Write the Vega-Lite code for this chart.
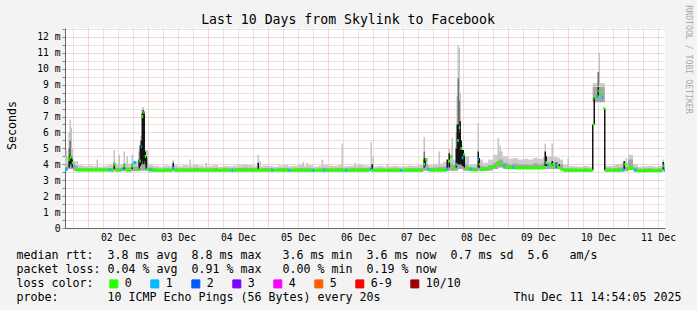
{
"$schema":"https://vega.github.io/schema/vega-lite/v6.json",
"width":600,"height":200,"autosize":"none",
"padding":{"left":65,"top":28,"right":32,"bottom":82},
"background":"#f3f3f3",
"config":{"view":{"fill":"#ffffff","stroke":null}},
"title":{"text":"Last 10 Days from Skylink to Facebook","font":"DejaVu Sans Mono","fontSize":13.2,"fontWeight":"normal","color":"#000000","anchor":"middle","frame":"group","dx":-17,"offset":-32.5,"baseline":"alphabetic"},
"datasets":{
"smoke":[
{"t":"2025-12-01T14:00:00Z","t2":"2025-12-01T16:00:00Z","lo":3.6,"hi":4.5,"m":4.0},
{"t":"2025-12-01T16:00:00Z","t2":"2025-12-01T18:00:00Z","lo":3.7,"hi":5.0,"m":4.5},
{"t":"2025-12-01T18:00:00Z","t2":"2025-12-01T20:00:00Z","lo":3.6,"hi":4.2,"m":3.9},
{"t":"2025-12-01T20:00:00Z","t2":"2025-12-01T22:00:00Z","lo":3.57,"hi":3.95,"m":3.78},
{"t":"2025-12-01T22:00:00Z","t2":"2025-12-02T00:00:00Z","lo":3.57,"hi":3.9,"m":3.75},
{"t":"2025-12-02T00:00:00Z","t2":"2025-12-02T02:00:00Z","lo":3.57,"hi":3.92,"m":3.75},
{"t":"2025-12-02T02:00:00Z","t2":"2025-12-02T04:00:00Z","lo":3.57,"hi":3.88,"m":3.74},
{"t":"2025-12-02T04:00:00Z","t2":"2025-12-02T06:00:00Z","lo":3.57,"hi":3.85,"m":3.73},
{"t":"2025-12-02T06:00:00Z","t2":"2025-12-02T08:00:00Z","lo":3.57,"hi":3.9,"m":3.75},
{"t":"2025-12-02T08:00:00Z","t2":"2025-12-02T10:00:00Z","lo":3.57,"hi":3.95,"m":3.76},
{"t":"2025-12-02T10:00:00Z","t2":"2025-12-02T12:00:00Z","lo":3.57,"hi":4.05,"m":3.8},
{"t":"2025-12-02T12:00:00Z","t2":"2025-12-02T14:00:00Z","lo":3.57,"hi":4.0,"m":3.78},
{"t":"2025-12-02T14:00:00Z","t2":"2025-12-02T16:00:00Z","lo":3.57,"hi":4.1,"m":3.82},
{"t":"2025-12-02T16:00:00Z","t2":"2025-12-02T18:00:00Z","lo":3.57,"hi":4.05,"m":3.8},
{"t":"2025-12-02T18:00:00Z","t2":"2025-12-02T20:00:00Z","lo":3.57,"hi":4.2,"m":3.85},
{"t":"2025-12-02T20:00:00Z","t2":"2025-12-02T22:00:00Z","lo":3.6,"hi":4.8,"m":4.3},
{"t":"2025-12-02T22:00:00Z","t2":"2025-12-03T00:00:00Z","lo":3.6,"hi":4.9,"m":4.4},
{"t":"2025-12-03T00:00:00Z","t2":"2025-12-03T02:00:00Z","lo":3.57,"hi":4.0,"m":3.8},
{"t":"2025-12-03T02:00:00Z","t2":"2025-12-03T04:00:00Z","lo":3.57,"hi":3.9,"m":3.75},
{"t":"2025-12-03T04:00:00Z","t2":"2025-12-03T06:00:00Z","lo":3.57,"hi":3.85,"m":3.72},
{"t":"2025-12-03T06:00:00Z","t2":"2025-12-03T08:00:00Z","lo":3.57,"hi":3.92,"m":3.75},
{"t":"2025-12-03T08:00:00Z","t2":"2025-12-03T10:00:00Z","lo":3.57,"hi":3.9,"m":3.74},
{"t":"2025-12-03T10:00:00Z","t2":"2025-12-03T12:00:00Z","lo":3.57,"hi":3.95,"m":3.78},
{"t":"2025-12-03T12:00:00Z","t2":"2025-12-03T14:00:00Z","lo":3.57,"hi":3.88,"m":3.74},
{"t":"2025-12-03T14:00:00Z","t2":"2025-12-03T16:00:00Z","lo":3.57,"hi":3.95,"m":3.76},
{"t":"2025-12-03T16:00:00Z","t2":"2025-12-03T18:00:00Z","lo":3.57,"hi":3.9,"m":3.74},
{"t":"2025-12-03T18:00:00Z","t2":"2025-12-03T20:00:00Z","lo":3.57,"hi":3.98,"m":3.78},
{"t":"2025-12-03T20:00:00Z","t2":"2025-12-03T22:00:00Z","lo":3.57,"hi":3.92,"m":3.75},
{"t":"2025-12-03T22:00:00Z","t2":"2025-12-04T00:00:00Z","lo":3.57,"hi":3.87,"m":3.73},
{"t":"2025-12-04T00:00:00Z","t2":"2025-12-04T02:00:00Z","lo":3.57,"hi":3.9,"m":3.74},
{"t":"2025-12-04T02:00:00Z","t2":"2025-12-04T04:00:00Z","lo":3.57,"hi":3.95,"m":3.77},
{"t":"2025-12-04T04:00:00Z","t2":"2025-12-04T06:00:00Z","lo":3.57,"hi":3.85,"m":3.72},
{"t":"2025-12-04T06:00:00Z","t2":"2025-12-04T08:00:00Z","lo":3.57,"hi":3.9,"m":3.75},
{"t":"2025-12-04T08:00:00Z","t2":"2025-12-04T10:00:00Z","lo":3.57,"hi":3.88,"m":3.74},
{"t":"2025-12-04T10:00:00Z","t2":"2025-12-04T12:00:00Z","lo":3.57,"hi":3.92,"m":3.76},
{"t":"2025-12-04T12:00:00Z","t2":"2025-12-04T14:00:00Z","lo":3.57,"hi":3.95,"m":3.77},
{"t":"2025-12-04T14:00:00Z","t2":"2025-12-04T16:00:00Z","lo":3.57,"hi":4.0,"m":3.8},
{"t":"2025-12-04T16:00:00Z","t2":"2025-12-04T18:00:00Z","lo":3.57,"hi":3.95,"m":3.77},
{"t":"2025-12-04T18:00:00Z","t2":"2025-12-04T20:00:00Z","lo":3.57,"hi":3.9,"m":3.75},
{"t":"2025-12-04T20:00:00Z","t2":"2025-12-04T22:00:00Z","lo":3.57,"hi":3.88,"m":3.74},
{"t":"2025-12-04T22:00:00Z","t2":"2025-12-05T00:00:00Z","lo":3.57,"hi":3.93,"m":3.76},
{"t":"2025-12-05T00:00:00Z","t2":"2025-12-05T02:00:00Z","lo":3.57,"hi":3.9,"m":3.75},
{"t":"2025-12-05T02:00:00Z","t2":"2025-12-05T04:00:00Z","lo":3.57,"hi":3.85,"m":3.72},
{"t":"2025-12-05T04:00:00Z","t2":"2025-12-05T06:00:00Z","lo":3.57,"hi":3.92,"m":3.76},
{"t":"2025-12-05T06:00:00Z","t2":"2025-12-05T08:00:00Z","lo":3.57,"hi":3.95,"m":3.77},
{"t":"2025-12-05T08:00:00Z","t2":"2025-12-05T10:00:00Z","lo":3.57,"hi":3.88,"m":3.74},
{"t":"2025-12-05T10:00:00Z","t2":"2025-12-05T12:00:00Z","lo":3.57,"hi":3.9,"m":3.75},
{"t":"2025-12-05T12:00:00Z","t2":"2025-12-05T14:00:00Z","lo":3.57,"hi":3.97,"m":3.78},
{"t":"2025-12-05T14:00:00Z","t2":"2025-12-05T16:00:00Z","lo":3.57,"hi":3.9,"m":3.75},
{"t":"2025-12-05T16:00:00Z","t2":"2025-12-05T18:00:00Z","lo":3.57,"hi":3.95,"m":3.77},
{"t":"2025-12-05T18:00:00Z","t2":"2025-12-05T20:00:00Z","lo":3.57,"hi":3.85,"m":3.72},
{"t":"2025-12-05T20:00:00Z","t2":"2025-12-05T22:00:00Z","lo":3.57,"hi":3.9,"m":3.75},
{"t":"2025-12-05T22:00:00Z","t2":"2025-12-06T00:00:00Z","lo":3.57,"hi":3.95,"m":3.77},
{"t":"2025-12-06T00:00:00Z","t2":"2025-12-06T02:00:00Z","lo":3.57,"hi":3.92,"m":3.76},
{"t":"2025-12-06T02:00:00Z","t2":"2025-12-06T04:00:00Z","lo":3.57,"hi":3.9,"m":3.75},
{"t":"2025-12-06T04:00:00Z","t2":"2025-12-06T06:00:00Z","lo":3.57,"hi":3.95,"m":3.77},
{"t":"2025-12-06T06:00:00Z","t2":"2025-12-06T08:00:00Z","lo":3.57,"hi":3.88,"m":3.74},
{"t":"2025-12-06T08:00:00Z","t2":"2025-12-06T10:00:00Z","lo":3.57,"hi":3.9,"m":3.75},
{"t":"2025-12-06T10:00:00Z","t2":"2025-12-06T12:00:00Z","lo":3.57,"hi":3.93,"m":3.76},
{"t":"2025-12-06T12:00:00Z","t2":"2025-12-06T14:00:00Z","lo":3.57,"hi":3.98,"m":3.78},
{"t":"2025-12-06T14:00:00Z","t2":"2025-12-06T16:00:00Z","lo":3.57,"hi":3.92,"m":3.76},
{"t":"2025-12-06T16:00:00Z","t2":"2025-12-06T18:00:00Z","lo":3.57,"hi":3.9,"m":3.75},
{"t":"2025-12-06T18:00:00Z","t2":"2025-12-06T20:00:00Z","lo":3.57,"hi":3.87,"m":3.73},
{"t":"2025-12-06T20:00:00Z","t2":"2025-12-06T22:00:00Z","lo":3.57,"hi":3.9,"m":3.75},
{"t":"2025-12-06T22:00:00Z","t2":"2025-12-07T00:00:00Z","lo":3.57,"hi":3.85,"m":3.72},
{"t":"2025-12-07T00:00:00Z","t2":"2025-12-07T02:00:00Z","lo":3.57,"hi":3.88,"m":3.74},
{"t":"2025-12-07T02:00:00Z","t2":"2025-12-07T04:00:00Z","lo":3.57,"hi":3.9,"m":3.75},
{"t":"2025-12-07T04:00:00Z","t2":"2025-12-07T06:00:00Z","lo":3.57,"hi":3.85,"m":3.72},
{"t":"2025-12-07T06:00:00Z","t2":"2025-12-07T08:00:00Z","lo":3.57,"hi":3.88,"m":3.74},
{"t":"2025-12-07T08:00:00Z","t2":"2025-12-07T10:00:00Z","lo":3.57,"hi":3.92,"m":3.76},
{"t":"2025-12-07T10:00:00Z","t2":"2025-12-07T12:00:00Z","lo":3.57,"hi":3.9,"m":3.75},
{"t":"2025-12-07T12:00:00Z","t2":"2025-12-07T14:00:00Z","lo":3.57,"hi":3.95,"m":3.77},
{"t":"2025-12-07T14:00:00Z","t2":"2025-12-07T16:00:00Z","lo":3.6,"hi":4.4,"m":4.0},
{"t":"2025-12-07T16:00:00Z","t2":"2025-12-07T18:00:00Z","lo":3.57,"hi":3.95,"m":3.77},
{"t":"2025-12-07T18:00:00Z","t2":"2025-12-07T20:00:00Z","lo":3.57,"hi":4.0,"m":3.8},
{"t":"2025-12-07T20:00:00Z","t2":"2025-12-07T22:00:00Z","lo":3.57,"hi":4.05,"m":3.82},
{"t":"2025-12-07T22:00:00Z","t2":"2025-12-08T00:00:00Z","lo":3.57,"hi":4.15,"m":3.85},
{"t":"2025-12-08T00:00:00Z","t2":"2025-12-08T02:00:00Z","lo":3.6,"hi":4.5,"m":4.1},
{"t":"2025-12-08T02:00:00Z","t2":"2025-12-08T04:00:00Z","lo":3.6,"hi":4.3,"m":3.95},
{"t":"2025-12-08T04:00:00Z","t2":"2025-12-08T06:00:00Z","lo":3.7,"hi":5.2,"m":4.6},
{"t":"2025-12-08T06:00:00Z","t2":"2025-12-08T08:00:00Z","lo":3.6,"hi":4.5,"m":4.0},
{"t":"2025-12-08T08:00:00Z","t2":"2025-12-08T10:00:00Z","lo":3.57,"hi":4.0,"m":3.8},
{"t":"2025-12-08T10:00:00Z","t2":"2025-12-08T12:00:00Z","lo":3.57,"hi":4.0,"m":3.8},
{"t":"2025-12-08T12:00:00Z","t2":"2025-12-08T14:00:00Z","lo":3.6,"hi":4.3,"m":3.9},
{"t":"2025-12-08T14:00:00Z","t2":"2025-12-08T16:00:00Z","lo":3.6,"hi":4.1,"m":3.85},
{"t":"2025-12-08T16:00:00Z","t2":"2025-12-08T18:00:00Z","lo":3.62,"hi":4.3,"m":3.95},
{"t":"2025-12-08T18:00:00Z","t2":"2025-12-08T20:00:00Z","lo":3.7,"hi":4.6,"m":4.1},
{"t":"2025-12-08T20:00:00Z","t2":"2025-12-08T22:00:00Z","lo":3.8,"hi":4.8,"m":4.3},
{"t":"2025-12-08T22:00:00Z","t2":"2025-12-09T00:00:00Z","lo":3.72,"hi":4.5,"m":4.1},
{"t":"2025-12-09T00:00:00Z","t2":"2025-12-09T02:00:00Z","lo":3.7,"hi":4.35,"m":4.0},
{"t":"2025-12-09T02:00:00Z","t2":"2025-12-09T04:00:00Z","lo":3.7,"hi":4.4,"m":4.05},
{"t":"2025-12-09T04:00:00Z","t2":"2025-12-09T06:00:00Z","lo":3.7,"hi":4.3,"m":4.0},
{"t":"2025-12-09T06:00:00Z","t2":"2025-12-09T08:00:00Z","lo":3.7,"hi":4.35,"m":4.0},
{"t":"2025-12-09T08:00:00Z","t2":"2025-12-09T10:00:00Z","lo":3.7,"hi":4.3,"m":3.98},
{"t":"2025-12-09T10:00:00Z","t2":"2025-12-09T12:00:00Z","lo":3.7,"hi":4.4,"m":4.05},
{"t":"2025-12-09T12:00:00Z","t2":"2025-12-09T14:00:00Z","lo":3.7,"hi":4.35,"m":4.0},
{"t":"2025-12-09T14:00:00Z","t2":"2025-12-09T16:00:00Z","lo":3.7,"hi":4.45,"m":4.1},
{"t":"2025-12-09T16:00:00Z","t2":"2025-12-09T18:00:00Z","lo":3.7,"hi":4.5,"m":4.1},
{"t":"2025-12-09T18:00:00Z","t2":"2025-12-09T20:00:00Z","lo":3.7,"hi":4.45,"m":4.15},
{"t":"2025-12-09T20:00:00Z","t2":"2025-12-09T22:00:00Z","lo":3.7,"hi":4.3,"m":4.0},
{"t":"2025-12-09T22:00:00Z","t2":"2025-12-10T00:00:00Z","lo":3.6,"hi":3.95,"m":3.75},
{"t":"2025-12-10T00:00:00Z","t2":"2025-12-10T02:00:00Z","lo":3.57,"hi":3.9,"m":3.75},
{"t":"2025-12-10T02:00:00Z","t2":"2025-12-10T04:00:00Z","lo":3.57,"hi":3.88,"m":3.74},
{"t":"2025-12-10T04:00:00Z","t2":"2025-12-10T06:00:00Z","lo":3.57,"hi":3.85,"m":3.72},
{"t":"2025-12-10T06:00:00Z","t2":"2025-12-10T08:00:00Z","lo":3.57,"hi":3.9,"m":3.75},
{"t":"2025-12-10T08:00:00Z","t2":"2025-12-10T09:54:00Z","lo":3.57,"hi":3.85,"m":3.72},
{"t":"2025-12-10T09:54:00Z","t2":"2025-12-10T14:42:00Z","lo":7.9,"hi":9.1,"m":8.85},
{"t":"2025-12-10T14:42:00Z","t2":"2025-12-10T16:00:00Z","lo":3.57,"hi":3.9,"m":3.75},
{"t":"2025-12-10T16:00:00Z","t2":"2025-12-10T18:00:00Z","lo":3.57,"hi":3.9,"m":3.75},
{"t":"2025-12-10T18:00:00Z","t2":"2025-12-10T20:00:00Z","lo":3.57,"hi":3.95,"m":3.77},
{"t":"2025-12-10T20:00:00Z","t2":"2025-12-10T22:00:00Z","lo":3.57,"hi":4.0,"m":3.8},
{"t":"2025-12-10T22:00:00Z","t2":"2025-12-11T00:00:00Z","lo":3.57,"hi":4.1,"m":3.85},
{"t":"2025-12-11T00:00:00Z","t2":"2025-12-11T02:00:00Z","lo":3.65,"hi":4.6,"m":4.3},
{"t":"2025-12-11T02:00:00Z","t2":"2025-12-11T04:00:00Z","lo":3.57,"hi":4.0,"m":3.8},
{"t":"2025-12-11T04:00:00Z","t2":"2025-12-11T06:00:00Z","lo":3.57,"hi":3.85,"m":3.72},
{"t":"2025-12-11T06:00:00Z","t2":"2025-12-11T08:00:00Z","lo":3.57,"hi":3.88,"m":3.74},
{"t":"2025-12-11T08:00:00Z","t2":"2025-12-11T10:00:00Z","lo":3.57,"hi":3.9,"m":3.75},
{"t":"2025-12-11T10:00:00Z","t2":"2025-12-11T12:00:00Z","lo":3.57,"hi":3.85,"m":3.72},
{"t":"2025-12-11T12:00:00Z","t2":"2025-12-11T14:00:00Z","lo":3.57,"hi":3.9,"m":3.75},
{"t":"2025-12-11T14:00:00Z","t2":"2025-12-11T16:00:00Z","lo":3.57,"hi":4.1,"m":3.85}
],
"spikes":[
{"t":"2025-12-01T15:18:00Z","lo":3.8,"hi":4.9,"shade":"light"},
{"t":"2025-12-01T16:30:00Z","lo":4.5,"hi":6.0,"shade":"light"},
{"t":"2025-12-01T16:30:00Z","lo":4.2,"hi":5.0,"shade":"mid"},
{"t":"2025-12-01T16:30:00Z","lo":3.8,"hi":4.4,"shade":"dark"},
{"t":"2025-12-01T16:54:00Z","lo":5.0,"hi":6.8,"shade":"light"},
{"t":"2025-12-01T16:54:00Z","lo":4.5,"hi":5.5,"shade":"mid"},
{"t":"2025-12-01T16:54:00Z","lo":4.0,"hi":4.6,"shade":"dark"},
{"t":"2025-12-01T17:18:00Z","lo":4.6,"hi":6.3,"shade":"light"},
{"t":"2025-12-01T17:18:00Z","lo":4.0,"hi":4.5,"shade":"dark"},
{"t":"2025-12-01T17:42:00Z","lo":3.8,"hi":4.3,"shade":"dark"},
{"t":"2025-12-02T03:42:00Z","lo":3.8,"hi":4.3,"shade":"light"},
{"t":"2025-12-02T10:30:00Z","lo":3.9,"hi":4.9,"shade":"light"},
{"t":"2025-12-02T10:30:00Z","lo":3.7,"hi":4.1,"shade":"dark"},
{"t":"2025-12-02T12:30:00Z","lo":3.8,"hi":4.6,"shade":"light"},
{"t":"2025-12-02T14:30:00Z","lo":3.9,"hi":4.8,"shade":"light"},
{"t":"2025-12-02T14:30:00Z","lo":3.7,"hi":4.0,"shade":"dark"},
{"t":"2025-12-02T15:42:00Z","lo":3.8,"hi":4.5,"shade":"light"},
{"t":"2025-12-02T17:42:00Z","lo":3.9,"hi":4.6,"shade":"light"},
{"t":"2025-12-02T17:42:00Z","lo":3.7,"hi":4.0,"shade":"dark"},
{"t":"2025-12-02T20:30:00Z","lo":3.7,"hi":4.3,"shade":"dark"},
{"t":"2025-12-02T20:54:00Z","lo":3.9,"hi":5.2,"shade":"dark"},
{"t":"2025-12-02T21:18:00Z","lo":5.2,"hi":5.8,"shade":"light"},
{"t":"2025-12-02T21:18:00Z","lo":4.0,"hi":5.5,"shade":"dark"},
{"t":"2025-12-02T21:42:00Z","lo":7.2,"hi":7.5,"shade":"light"},
{"t":"2025-12-02T21:42:00Z","lo":4.2,"hi":7.2,"shade":"dark"},
{"t":"2025-12-02T22:06:00Z","lo":7.3,"hi":7.6,"shade":"light"},
{"t":"2025-12-02T22:06:00Z","lo":4.0,"hi":7.4,"shade":"dark"},
{"t":"2025-12-02T22:30:00Z","lo":4.2,"hi":7.3,"shade":"dark"},
{"t":"2025-12-02T22:54:00Z","lo":4.0,"hi":4.8,"shade":"dark"},
{"t":"2025-12-02T23:18:00Z","lo":3.7,"hi":4.5,"shade":"dark"},
{"t":"2025-12-03T10:06:00Z","lo":3.8,"hi":4.3,"shade":"light"},
{"t":"2025-12-03T10:06:00Z","lo":3.7,"hi":4.1,"shade":"dark"},
{"t":"2025-12-03T16:54:00Z","lo":3.8,"hi":4.3,"shade":"light"},
{"t":"2025-12-03T23:18:00Z","lo":3.8,"hi":4.1,"shade":"light"},
{"t":"2025-12-04T20:06:00Z","lo":3.8,"hi":4.6,"shade":"light"},
{"t":"2025-12-04T20:06:00Z","lo":3.7,"hi":4.1,"shade":"dark"},
{"t":"2025-12-04T20:54:00Z","lo":3.8,"hi":4.2,"shade":"light"},
{"t":"2025-12-05T14:06:00Z","lo":3.8,"hi":4.15,"shade":"light"},
{"t":"2025-12-05T15:42:00Z","lo":3.8,"hi":4.1,"shade":"light"},
{"t":"2025-12-05T21:42:00Z","lo":3.8,"hi":4.3,"shade":"light"},
{"t":"2025-12-06T05:42:00Z","lo":3.8,"hi":5.3,"shade":"light"},
{"t":"2025-12-06T10:54:00Z","lo":3.8,"hi":4.1,"shade":"light"},
{"t":"2025-12-06T17:18:00Z","lo":3.8,"hi":5.4,"shade":"light"},
{"t":"2025-12-06T17:42:00Z","lo":3.7,"hi":4.0,"shade":"dark"},
{"t":"2025-12-06T18:06:00Z","lo":3.8,"hi":4.5,"shade":"light"},
{"t":"2025-12-06T23:42:00Z","lo":3.8,"hi":4.0,"shade":"light"},
{"t":"2025-12-07T14:30:00Z","lo":4.8,"hi":5.7,"shade":"light"},
{"t":"2025-12-07T14:30:00Z","lo":4.2,"hi":4.8,"shade":"mid"},
{"t":"2025-12-07T14:30:00Z","lo":3.8,"hi":4.3,"shade":"dark"},
{"t":"2025-12-07T14:54:00Z","lo":3.9,"hi":4.4,"shade":"dark"},
{"t":"2025-12-07T20:30:00Z","lo":3.8,"hi":4.8,"shade":"light"},
{"t":"2025-12-07T23:42:00Z","lo":3.7,"hi":4.3,"shade":"dark"},
{"t":"2025-12-08T00:30:00Z","lo":4.7,"hi":5.0,"shade":"light"},
{"t":"2025-12-08T00:30:00Z","lo":3.8,"hi":4.7,"shade":"dark"},
{"t":"2025-12-08T01:42:00Z","lo":4.0,"hi":5.65,"shade":"light"},
{"t":"2025-12-08T03:18:00Z","lo":4.5,"hi":6.0,"shade":"light"},
{"t":"2025-12-08T03:18:00Z","lo":3.8,"hi":5.0,"shade":"dark"},
{"t":"2025-12-08T03:42:00Z","lo":6.5,"hi":8.3,"shade":"light"},
{"t":"2025-12-08T03:42:00Z","lo":4.0,"hi":6.5,"shade":"dark"},
{"t":"2025-12-08T04:06:00Z","lo":9.4,"hi":11.5,"shade":"light"},
{"t":"2025-12-08T04:06:00Z","lo":6.5,"hi":9.4,"shade":"mid"},
{"t":"2025-12-08T04:06:00Z","lo":4.0,"hi":6.5,"shade":"dark"},
{"t":"2025-12-08T04:30:00Z","lo":8.0,"hi":11.3,"shade":"light"},
{"t":"2025-12-08T04:30:00Z","lo":6.0,"hi":8.0,"shade":"mid"},
{"t":"2025-12-08T04:30:00Z","lo":4.0,"hi":6.0,"shade":"dark"},
{"t":"2025-12-08T04:54:00Z","lo":6.7,"hi":8.5,"shade":"light"},
{"t":"2025-12-08T04:54:00Z","lo":4.0,"hi":6.7,"shade":"dark"},
{"t":"2025-12-08T05:18:00Z","lo":4.0,"hi":5.5,"shade":"dark"},
{"t":"2025-12-08T05:42:00Z","lo":3.9,"hi":4.9,"shade":"dark"},
{"t":"2025-12-08T06:06:00Z","lo":3.9,"hi":4.9,"shade":"dark"},
{"t":"2025-12-08T06:30:00Z","lo":3.8,"hi":4.6,"shade":"dark"},
{"t":"2025-12-08T08:06:00Z","lo":3.8,"hi":4.5,"shade":"light"},
{"t":"2025-12-08T12:06:00Z","lo":4.8,"hi":6.6,"shade":"light"},
{"t":"2025-12-08T12:06:00Z","lo":3.8,"hi":4.8,"shade":"dark"},
{"t":"2025-12-08T12:30:00Z","lo":3.8,"hi":4.4,"shade":"dark"},
{"t":"2025-12-08T20:06:00Z","lo":4.2,"hi":5.65,"shade":"light"},
{"t":"2025-12-08T20:54:00Z","lo":4.3,"hi":5.2,"shade":"light"},
{"t":"2025-12-09T14:54:00Z","lo":4.5,"hi":5.3,"shade":"light"},
{"t":"2025-12-09T14:54:00Z","lo":3.9,"hi":4.8,"shade":"dark"},
{"t":"2025-12-09T15:18:00Z","lo":3.9,"hi":4.5,"shade":"dark"},
{"t":"2025-12-09T17:42:00Z","lo":4.2,"hi":5.3,"shade":"light"},
{"t":"2025-12-09T17:42:00Z","lo":3.9,"hi":4.2,"shade":"dark"},
{"t":"2025-12-09T19:18:00Z","lo":3.8,"hi":4.1,"shade":"dark"},
{"t":"2025-12-09T20:30:00Z","lo":4.0,"hi":4.4,"shade":"light"},
{"t":"2025-12-09T20:30:00Z","lo":3.8,"hi":4.0,"shade":"dark"},
{"t":"2025-12-10T00:06:00Z","lo":3.8,"hi":4.4,"shade":"light"},
{"t":"2025-12-10T09:54:00Z","lo":3.62,"hi":6.5,"shade":"dark"},
{"t":"2025-12-10T10:30:00Z","lo":6.5,"hi":8.2,"shade":"dark"},
{"t":"2025-12-10T12:06:00Z","lo":8.9,"hi":9.8,"shade":"mid"},
{"t":"2025-12-10T12:06:00Z","lo":8.3,"hi":8.85,"shade":"dark"},
{"t":"2025-12-10T12:30:00Z","lo":9.0,"hi":11.0,"shade":"light"},
{"t":"2025-12-10T14:42:00Z","lo":3.62,"hi":7.5,"shade":"dark"},
{"t":"2025-12-10T19:42:00Z","lo":3.8,"hi":4.0,"shade":"light"},
{"t":"2025-12-10T21:42:00Z","lo":3.8,"hi":4.1,"shade":"light"},
{"t":"2025-12-10T22:30:00Z","lo":3.7,"hi":4.2,"shade":"dark"},
{"t":"2025-12-10T23:18:00Z","lo":3.8,"hi":4.4,"shade":"light"},
{"t":"2025-12-11T14:06:00Z","lo":3.8,"hi":4.3,"shade":"light"},
{"t":"2025-12-11T14:06:00Z","lo":3.7,"hi":4.15,"shade":"dark"}
],
"median":[
{"t":"2025-12-01T14:00:00Z","t2":"2025-12-01T15:54:00Z","med":3.7,"loss":"1"},
{"t":"2025-12-01T15:54:00Z","t2":"2025-12-01T16:42:00Z","med":4.3,"loss":"0"},
{"t":"2025-12-01T16:42:00Z","t2":"2025-12-01T17:30:00Z","med":4.45,"loss":"0"},
{"t":"2025-12-01T17:30:00Z","t2":"2025-12-01T18:18:00Z","med":4.1,"loss":"0"},
{"t":"2025-12-01T18:18:00Z","t2":"2025-12-01T18:54:00Z","med":3.9,"loss":"1"},
{"t":"2025-12-01T18:54:00Z","t2":"2025-12-02T08:30:00Z","med":3.65,"loss":"0"},
{"t":"2025-12-02T08:30:00Z","t2":"2025-12-02T09:18:00Z","med":3.65,"loss":"1"},
{"t":"2025-12-02T09:18:00Z","t2":"2025-12-02T10:18:00Z","med":3.62,"loss":"0"},
{"t":"2025-12-02T10:18:00Z","t2":"2025-12-02T11:06:00Z","med":4.0,"loss":"0"},
{"t":"2025-12-02T11:06:00Z","t2":"2025-12-02T13:18:00Z","med":3.63,"loss":"0"},
{"t":"2025-12-02T13:18:00Z","t2":"2025-12-02T14:06:00Z","med":3.7,"loss":"1"},
{"t":"2025-12-02T14:06:00Z","t2":"2025-12-02T15:06:00Z","med":3.9,"loss":"0"},
{"t":"2025-12-02T15:06:00Z","t2":"2025-12-02T17:18:00Z","med":3.63,"loss":"0"},
{"t":"2025-12-02T17:18:00Z","t2":"2025-12-02T18:06:00Z","med":3.9,"loss":"0"},
{"t":"2025-12-02T18:06:00Z","t2":"2025-12-02T19:18:00Z","med":4.1,"loss":"1"},
{"t":"2025-12-02T19:18:00Z","t2":"2025-12-02T20:30:00Z","med":3.7,"loss":"0"},
{"t":"2025-12-02T20:30:00Z","t2":"2025-12-02T21:06:00Z","med":4.2,"loss":"0"},
{"t":"2025-12-02T21:06:00Z","t2":"2025-12-02T21:30:00Z","med":5.1,"loss":"1"},
{"t":"2025-12-02T21:30:00Z","t2":"2025-12-02T22:06:00Z","med":7.0,"loss":"0"},
{"t":"2025-12-02T22:06:00Z","t2":"2025-12-02T22:42:00Z","med":7.25,"loss":"0"},
{"t":"2025-12-02T22:42:00Z","t2":"2025-12-02T23:18:00Z","med":4.5,"loss":"0"},
{"t":"2025-12-02T23:18:00Z","t2":"2025-12-03T00:30:00Z","med":3.7,"loss":"0"},
{"t":"2025-12-03T00:30:00Z","t2":"2025-12-03T01:18:00Z","med":3.65,"loss":"1"},
{"t":"2025-12-03T01:18:00Z","t2":"2025-12-03T09:42:00Z","med":3.62,"loss":"0"},
{"t":"2025-12-03T09:42:00Z","t2":"2025-12-03T10:30:00Z","med":3.75,"loss":"1"},
{"t":"2025-12-03T10:30:00Z","t2":"2025-12-04T09:18:00Z","med":3.62,"loss":"0"},
{"t":"2025-12-04T09:18:00Z","t2":"2025-12-04T10:06:00Z","med":3.62,"loss":"1"},
{"t":"2025-12-04T10:06:00Z","t2":"2025-12-05T01:18:00Z","med":3.63,"loss":"0"},
{"t":"2025-12-05T01:18:00Z","t2":"2025-12-05T02:06:00Z","med":3.63,"loss":"1"},
{"t":"2025-12-05T02:06:00Z","t2":"2025-12-05T08:06:00Z","med":3.63,"loss":"0"},
{"t":"2025-12-05T08:06:00Z","t2":"2025-12-05T08:54:00Z","med":3.62,"loss":"1"},
{"t":"2025-12-05T08:54:00Z","t2":"2025-12-05T17:42:00Z","med":3.62,"loss":"0"},
{"t":"2025-12-05T17:42:00Z","t2":"2025-12-05T18:30:00Z","med":3.62,"loss":"1"},
{"t":"2025-12-05T18:30:00Z","t2":"2025-12-05T22:06:00Z","med":3.62,"loss":"0"},
{"t":"2025-12-05T22:06:00Z","t2":"2025-12-05T22:54:00Z","med":3.62,"loss":"1"},
{"t":"2025-12-05T22:54:00Z","t2":"2025-12-06T06:54:00Z","med":3.62,"loss":"0"},
{"t":"2025-12-06T06:54:00Z","t2":"2025-12-06T07:42:00Z","med":3.62,"loss":"1"},
{"t":"2025-12-06T07:42:00Z","t2":"2025-12-06T16:30:00Z","med":3.62,"loss":"0"},
{"t":"2025-12-06T16:30:00Z","t2":"2025-12-06T17:18:00Z","med":3.7,"loss":"1"},
{"t":"2025-12-06T17:18:00Z","t2":"2025-12-07T04:54:00Z","med":3.62,"loss":"0"},
{"t":"2025-12-07T04:54:00Z","t2":"2025-12-07T05:42:00Z","med":3.62,"loss":"1"},
{"t":"2025-12-07T05:42:00Z","t2":"2025-12-07T14:06:00Z","med":3.62,"loss":"0"},
{"t":"2025-12-07T14:06:00Z","t2":"2025-12-07T14:54:00Z","med":4.0,"loss":"0"},
{"t":"2025-12-07T14:54:00Z","t2":"2025-12-07T15:42:00Z","med":4.3,"loss":"0"},
{"t":"2025-12-07T15:42:00Z","t2":"2025-12-07T16:30:00Z","med":3.7,"loss":"1"},
{"t":"2025-12-07T16:30:00Z","t2":"2025-12-07T23:18:00Z","med":3.63,"loss":"0"},
{"t":"2025-12-07T23:18:00Z","t2":"2025-12-08T00:06:00Z","med":3.7,"loss":"1"},
{"t":"2025-12-08T00:06:00Z","t2":"2025-12-08T00:54:00Z","med":4.2,"loss":"0"},
{"t":"2025-12-08T00:54:00Z","t2":"2025-12-08T01:42:00Z","med":4.5,"loss":"0"},
{"t":"2025-12-08T01:42:00Z","t2":"2025-12-08T02:54:00Z","med":3.8,"loss":"0"},
{"t":"2025-12-08T02:54:00Z","t2":"2025-12-08T03:42:00Z","med":4.0,"loss":"1"},
{"t":"2025-12-08T03:42:00Z","t2":"2025-12-08T04:18:00Z","med":5.5,"loss":"0"},
{"t":"2025-12-08T04:18:00Z","t2":"2025-12-08T04:54:00Z","med":6.3,"loss":"0"},
{"t":"2025-12-08T04:54:00Z","t2":"2025-12-08T05:30:00Z","med":5.0,"loss":"0"},
{"t":"2025-12-08T05:30:00Z","t2":"2025-12-08T06:06:00Z","med":4.4,"loss":"1"},
{"t":"2025-12-08T06:06:00Z","t2":"2025-12-08T06:54:00Z","med":4.6,"loss":"0"},
{"t":"2025-12-08T06:54:00Z","t2":"2025-12-08T08:54:00Z","med":3.75,"loss":"0"},
{"t":"2025-12-08T08:54:00Z","t2":"2025-12-08T09:42:00Z","med":3.7,"loss":"1"},
{"t":"2025-12-08T09:42:00Z","t2":"2025-12-08T11:42:00Z","med":3.65,"loss":"0"},
{"t":"2025-12-08T11:42:00Z","t2":"2025-12-08T12:18:00Z","med":4.3,"loss":"1"},
{"t":"2025-12-08T12:18:00Z","t2":"2025-12-08T12:54:00Z","med":4.0,"loss":"0"},
{"t":"2025-12-08T12:54:00Z","t2":"2025-12-08T14:06:00Z","med":3.65,"loss":"0"},
{"t":"2025-12-08T14:06:00Z","t2":"2025-12-08T16:54:00Z","med":3.7,"loss":"0"},
{"t":"2025-12-08T16:54:00Z","t2":"2025-12-08T19:18:00Z","med":3.85,"loss":"0"},
{"t":"2025-12-08T19:18:00Z","t2":"2025-12-08T20:54:00Z","med":4.1,"loss":"0"},
{"t":"2025-12-08T20:54:00Z","t2":"2025-12-08T22:06:00Z","med":3.95,"loss":"0"},
{"t":"2025-12-08T22:06:00Z","t2":"2025-12-08T22:54:00Z","med":3.9,"loss":"1"},
{"t":"2025-12-08T22:54:00Z","t2":"2025-12-09T01:42:00Z","med":3.8,"loss":"0"},
{"t":"2025-12-09T01:42:00Z","t2":"2025-12-09T02:30:00Z","med":3.8,"loss":"1"},
{"t":"2025-12-09T02:30:00Z","t2":"2025-12-09T14:54:00Z","med":3.78,"loss":"0"},
{"t":"2025-12-09T14:54:00Z","t2":"2025-12-09T15:42:00Z","med":4.1,"loss":"0"},
{"t":"2025-12-09T15:42:00Z","t2":"2025-12-09T16:30:00Z","med":3.95,"loss":"1"},
{"t":"2025-12-09T16:30:00Z","t2":"2025-12-09T17:42:00Z","med":3.9,"loss":"0"},
{"t":"2025-12-09T17:42:00Z","t2":"2025-12-09T18:54:00Z","med":4.0,"loss":"0"},
{"t":"2025-12-09T18:54:00Z","t2":"2025-12-09T19:42:00Z","med":3.95,"loss":"1"},
{"t":"2025-12-09T19:42:00Z","t2":"2025-12-09T20:54:00Z","med":3.8,"loss":"0"},
{"t":"2025-12-09T20:54:00Z","t2":"2025-12-09T22:06:00Z","med":3.7,"loss":"0"},
{"t":"2025-12-09T22:06:00Z","t2":"2025-12-10T09:54:00Z","med":3.62,"loss":"0"},
{"t":"2025-12-10T09:54:00Z","t2":"2025-12-10T10:30:00Z","med":6.5,"loss":"0"},
{"t":"2025-12-10T10:30:00Z","t2":"2025-12-10T11:18:00Z","med":8.2,"loss":"0"},
{"t":"2025-12-10T11:18:00Z","t2":"2025-12-10T12:06:00Z","med":8.25,"loss":"1"},
{"t":"2025-12-10T12:06:00Z","t2":"2025-12-10T12:42:00Z","med":8.6,"loss":"0"},
{"t":"2025-12-10T12:42:00Z","t2":"2025-12-10T13:30:00Z","med":8.4,"loss":"0"},
{"t":"2025-12-10T13:30:00Z","t2":"2025-12-10T14:06:00Z","med":8.2,"loss":"1"},
{"t":"2025-12-10T14:06:00Z","t2":"2025-12-10T14:42:00Z","med":7.5,"loss":"0"},
{"t":"2025-12-10T14:42:00Z","t2":"2025-12-10T21:42:00Z","med":3.62,"loss":"0"},
{"t":"2025-12-10T21:42:00Z","t2":"2025-12-10T22:30:00Z","med":3.65,"loss":"1"},
{"t":"2025-12-10T22:30:00Z","t2":"2025-12-10T23:18:00Z","med":4.0,"loss":"0"},
{"t":"2025-12-10T23:18:00Z","t2":"2025-12-11T02:30:00Z","med":3.75,"loss":"0"},
{"t":"2025-12-11T02:30:00Z","t2":"2025-12-11T03:18:00Z","med":3.62,"loss":"1"},
{"t":"2025-12-11T03:18:00Z","t2":"2025-12-11T13:42:00Z","med":3.6,"loss":"0"},
{"t":"2025-12-11T13:42:00Z","t2":"2025-12-11T14:18:00Z","med":3.9,"loss":"0"},
{"t":"2025-12-11T14:18:00Z","t2":"2025-12-11T15:00:00Z","med":3.65,"loss":"1"}
]
},
"encoding":{
"x":{"field":"t","type":"temporal",
"scale":{"type":"utc","domain":[1764600480000,1765464480000]},
"axis":{
"values":[1764612000000,1764633600000,1764655200000,1764676800000,1764698400000,1764720000000,1764741600000,1764763200000,1764784800000,1764806400000,1764828000000,1764849600000,1764871200000,1764892800000,1764914400000,1764936000000,1764957600000,1764979200000,1765000800000,1765022400000,1765044000000,1765065600000,1765087200000,1765108800000,1765130400000,1765152000000,1765173600000,1765195200000,1765216800000,1765238400000,1765260000000,1765281600000,1765303200000,1765324800000,1765346400000,1765368000000,1765389600000,1765411200000,1765432800000,1765454400000],
"grid":true,
"gridColor":{"condition":{"test":"utchours(datum.value) === 0","value":"#ffa3a3"},"value":"#c8c8c8"},
"gridDash":[1,1],"gridWidth":1,
"ticks":false,
"domain":true,"domainColor":"#666666",
"labelExpr":"utchours(datum.value) === 12 ? utcFormat(datum.value, '%d %b') : ''",
"labelOverlap":false,"labelFlush":false,
"labelFont":"DejaVu Sans Mono","labelFontSize":9.7,"labelColor":"#000000","labelPadding":4,
"title":["median rtt:\u00a0 3.8 ms avg\u00a0 8.8 ms max\u00a0\u00a0 3.6 ms min\u00a0 3.6 ms now\u00a0 0.7 ms sd\u00a0 5.6\u00a0\u00a0 am/s","packet loss: 0.04 % avg\u00a0 0.91 % max\u00a0\u00a0 0.00 % min\u00a0 0.19 % now","loss color:","probe:\u00a0\u00a0\u00a0\u00a0\u00a0\u00a0\u00a010 ICMP Echo Pings (56 Bytes) every 20s\u00a0\u00a0\u00a0\u00a0\u00a0\u00a0\u00a0\u00a0\u00a0\u00a0\u00a0\u00a0\u00a0\u00a0\u00a0\u00a0\u00a0\u00a0\u00a0Thu Dec 11 14:54:05 2025"],
"titleFont":"DejaVu Sans Mono","titleFontSize":11.63,"titleFontWeight":"normal","titleColor":"#000000",
"titleAlign":"left","titleAnchor":"start","titleBaseline":"alphabetic","titleLineHeight":14,
"titleX":-49,"titleY":30
}}
},
"layer":[
{"data":{"name":"smoke"},
"mark":{"type":"rect","color":"#cdcdcd","clip":true},
"encoding":{"x2":{"field":"t2"},
"y":{"field":"lo","type":"quantitative","scale":{"domain":[0,12.56],"nice":false,"zero":false},
"axis":{"values":[0,0.5,1,1.5,2,2.5,3,3.5,4,4.5,5,5.5,6,6.5,7,7.5,8,8.5,9,9.5,10,10.5,11,11.5,12,12.5],
"grid":true,
"gridColor":{"condition":{"test":"datum.value % 1 === 0","value":"#ffa3a3"},"value":"#c8c8c8"},
"gridDash":[1,1],"gridWidth":1,
"ticks":true,"tickSize":3,"tickColor":"#888888",
"domain":true,"domainColor":"#666666",
"labelExpr":"datum.value % 1 === 0 ? (datum.value === 0 ? '0' : datum.value + ' m') : ''",
"labelOverlap":false,"labelFlush":false,
"labelFont":"DejaVu Sans Mono","labelFontSize":9.7,"labelColor":"#000000","labelPadding":2,
"title":"Seconds","titleFont":"DejaVu Sans Mono","titleFontSize":11.63,"titleFontWeight":"normal","titleColor":"#000000",
"titleAngle":-90,"titleAlign":"center","titleBaseline":"alphabetic","titleX":-50,"titleY":97}},
"y2":{"field":"hi"}}},
{"data":{"name":"smoke"},
"mark":{"type":"rect","color":"#a6a6a6","clip":true},
"encoding":{"x2":{"field":"t2"},
"y":{"field":"lo","type":"quantitative","scale":{"domain":[0,12.56],"nice":false,"zero":false},"axis":null},
"y2":{"field":"m"}}},
{"data":{"name":"spikes"},
"transform":[{"filter":"datum.shade === 'light'"}],
"mark":{"type":"rule","color":"#c4c4c4","strokeWidth":1.5,"clip":true},
"encoding":{"y":{"field":"lo","type":"quantitative","scale":{"domain":[0,12.56],"nice":false,"zero":false},"axis":null},"y2":{"field":"hi"}}},
{"data":{"name":"spikes"},
"transform":[{"filter":"datum.shade === 'mid'"}],
"mark":{"type":"rule","color":"#6e6e6e","strokeWidth":1.5,"clip":true},
"encoding":{"y":{"field":"lo","type":"quantitative","scale":{"domain":[0,12.56],"nice":false,"zero":false},"axis":null},"y2":{"field":"hi"}}},
{"data":{"name":"spikes"},
"transform":[{"filter":"datum.shade === 'dark'"}],
"mark":{"type":"rule","color":"#151515","strokeWidth":1.5,"clip":true},
"encoding":{"y":{"field":"lo","type":"quantitative","scale":{"domain":[0,12.56],"nice":false,"zero":false},"axis":null},"y2":{"field":"hi"}}},
{"data":{"name":"median"},
"mark":{"type":"rule","strokeWidth":3,"clip":true},
"encoding":{"x2":{"field":"t2"},
"y":{"field":"med","type":"quantitative","scale":{"domain":[0,12.56],"nice":false,"zero":false},"axis":null},
"color":{"field":"loss","type":"nominal",
"scale":{"domain":["0","1","2","3","4","5","6-9","10/10"],"range":["#26ff00","#00b8ff","#0059ff","#7e00ff","#ff00ff","#ff5e00","#ff0000","#a10000"]},
"legend":{"orient":"none","legendX":43,"legendY":250,"direction":"horizontal","title":null,
"symbolType":"square","symbolSize":64,"symbolStrokeWidth":1,
"labelFont":"DejaVu Sans Mono","labelFontSize":11.63,"labelColor":"#000000","labelOffset":5,
"columnPadding":16,"padding":0,"labelLimit":100,
"encode":{"symbols":{"update":{"fill":{"scale":"color","field":"value"},"stroke":{"value":"#000000"},"strokeWidth":{"value":1},"opacity":{"value":1},"fillOpacity":{"value":1}}}}}}}},
{"data":{"name":"median"},
"mark":{"type":"point","opacity":0},
"encoding":{"y":{"field":"med","type":"quantitative","scale":{"domain":[0,12.56],"nice":false,"zero":false},
"axis":{"orient":"right","title":"RRDTOOL / TOBI OETIKER","labels":false,"ticks":false,"domain":false,"grid":false,
"titleFont":"DejaVu Sans Mono","titleFontSize":8.2,"titleFontWeight":"normal","titleColor":"#aaaaaa",
"titleAngle":90,"titleAlign":"center","titleBaseline":"alphabetic","titleX":20,"titleY":31}}}}
],
"resolve":{"axis":{"y":"independent"}}
}
